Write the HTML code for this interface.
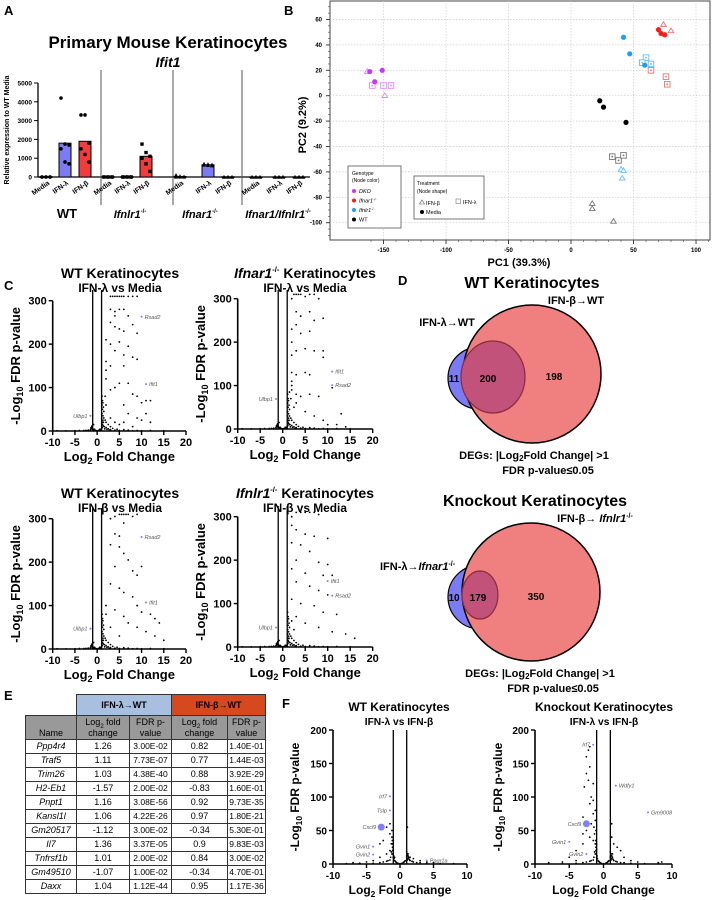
<!DOCTYPE html>
<html><head><meta charset="utf-8"><style>
html,body{margin:0;padding:0;background:#fff;}
svg{display:block;font-family:"Liberation Sans",Arial,sans-serif;}
#tbl td{padding:0;white-space:nowrap;overflow:hidden;}
</style></head><body>
<svg id="fig" width="712" height="900" viewBox="0 0 712 900">
<g font-weight="bold" font-size="13">
<text x="4" y="15">A</text>
<text x="284" y="15">B</text>
<text x="4" y="290">C</text>
<text x="398" y="285">D</text>
<text x="4" y="700">E</text>
<text x="282" y="708">F</text>
</g>
<g id="pA"></g>
<g id="pB"></g>
<g id="pC"></g>
<g id="pD">
<text x="532" y="288" text-anchor="middle" font-size="16" font-weight="bold">WT Keratinocytes</text>
<text x="576" y="304" text-anchor="middle" font-size="11" font-weight="bold">IFN-β→WT</text>
<text x="447" y="326" text-anchor="middle" font-size="11" font-weight="bold">IFN-λ→WT</text>
<circle cx="479" cy="378" r="31" fill="#7b7bf5" stroke="#000" stroke-width="1.2"/>
<circle cx="532" cy="374" r="69" fill="#f08080" stroke="#000" stroke-width="1.5"/>
<ellipse cx="493" cy="377" rx="32" ry="36" fill="#c2527a" stroke="#8b2a3a" stroke-width="1.2"/>
<text x="534" y="459" text-anchor="middle" font-size="11" font-weight="bold">DEGs: |Log<tspan font-size="8" dy="2">2</tspan><tspan dy="-2">Fold Change| &gt;1</tspan></text>
<text x="548" y="474" text-anchor="middle" font-size="11" font-weight="bold">FDR p-value≤0.05</text>
<text x="535" y="506" text-anchor="middle" font-size="16" font-weight="bold">Knockout Keratinocytes</text>
<text x="595" y="522" text-anchor="middle" font-size="11" font-weight="bold">IFN-β→ <tspan font-style="italic">Ifnlr1</tspan><tspan font-size="7" dy="-4">-/-</tspan></text>
<text x="380" y="570" font-size="11" font-weight="bold">IFN-λ→<tspan font-style="italic">Ifnar1</tspan><tspan font-size="7" dy="-4">-/-</tspan></text>
<circle cx="480" cy="597" r="32" fill="#7b7bf5" stroke="#000" stroke-width="1.2"/>
<circle cx="531" cy="592" r="69" fill="#f08080" stroke="#000" stroke-width="1.5"/>
<ellipse cx="480" cy="595" rx="18" ry="24" fill="#c2527a" stroke="#8b2a3a" stroke-width="1.2"/>
<text x="540" y="677" text-anchor="middle" font-size="11" font-weight="bold">DEGs: |Log<tspan font-size="8" dy="2">2</tspan><tspan dy="-2">Fold Change| &gt;1</tspan></text>
<text x="553" y="692" text-anchor="middle" font-size="11" font-weight="bold">FDR p-value≤0.05</text>
<g font-size="10" font-weight="bold" text-anchor="middle">
<text x="454" y="382">11</text>
<text x="488" y="382">200</text>
<text x="554" y="380">198</text>
<text x="454" y="601">10</text>
<text x="478" y="601">179</text>
<text x="536" y="600">350</text>
</g>
</g>
<g id="pF"></g>
</svg>
<div id="tbl" style="position:absolute;left:25px;top:694px;font-family:'Liberation Sans',Arial,sans-serif;font-size:9px;"></div>
<script>
const NS="http://www.w3.org/2000/svg";
function el(parent,tag,attrs,text){const e=document.createElementNS(NS,tag);for(const k in attrs)e.setAttribute(k,attrs[k]);if(text!==undefined)e.textContent=text;parent.appendChild(e);return e;}

/* ===== Panel A data ===== */
const groupNames=["WT","Ifnlr1","Ifnar1","Ifnar1/Ifnlr1"];
const treatments=["Media","IFN-λ","IFN-β"];
const barWT=[20,1800,1900];
const barIfnlr1=[20,20,1100];
const barIfnar1=[30,650,10];
const barDKO=[5,5,5];
const ptsWT=[[0,0,0,0,0,0],[4200,1750,1700,1500,800,700],[3300,3300,1800,1500,1200,800]];
const ptsIfnlr1=[[0,0,0,0,0,0],[0,0,0,0,0,0],[1750,1300,1100,1000,700,300]];
const ptsIfnar1=[[100,40,20,0,0,0],[700,680,660,640,620,600],[0,0,0,0,0,0]];
const ptsDKO=[[0,0,0,0,0,0],[0,0,0,0,0,0],[0,0,0,0,0,0]];
const yTicksA=[0,1000,2000,3000,4000,5000];

/* ===== Panel B data ===== */
const pcaDKO_media=[[-161,19],[-151,20],[-157,11]];
const pcaDKO_lam=[[-159,8],[-150,8],[-144,8]];
const pcaDKO_beta=[[-149,0],[-163,19]];
const pcaIfnar_media=[[70,52],[72,49],[75,48]];
const pcaIfnar_lam=[[76,15],[77,9],[64,20]];
const pcaIfnar_beta=[[74,56],[80,51]];
const pcaIfnlr_media=[[42,46],[47,33],[59,24]];
const pcaIfnlr_lam=[[60,30],[57,26],[64,25]];
const pcaIfnlr_beta=[[40,-58],[42,-59],[41,-65]];
const pcaWT_media=[[23,-4],[26,-9],[44,-21]];
const pcaWT_lam=[[33,-48],[38,-51],[42,-47]];
const pcaWT_beta=[[17,-85],[17,-89],[34,-99]];
const pcaXTicks=[-150,-100,-50,0,50,100];
const pcaYTicks=[60,40,20,0,-20,-40,-60,-80,-100];

/* ===== Panel C data ===== */
const clusterC=[[-1,5],[-1.2,10],[-0.8,15],[-1.5,3],[-2,2],[-3,1],[-5,0.5],[-7,0.3],[1,5],[1.2,15],[1.3,25],[1.5,30],[1.4,20],[1.6,10],[2,8],[2.5,5],[3,3],[4,2],[5,1],[6,1],[8,0.5],[0.5,2],[-0.5,2],[0,0.5],[1.1,40],[1.2,50],[1.1,60],[1.3,35],[1.5,45],[2,20],[2.5,15],[3,10],[1.8,25],[-1.1,8],[-1.3,5],[-0.9,3],[0.8,3],[-9,0.5],[12,1],[15,0.5],[1.2,70],[1.4,55],[0.9,1],[-0.7,1],[3.5,6],[4.5,4],[6,3],[7,2],[-0.3,1],[0.3,1],[-1,1],[1,1],[-1.4,7],[1.7,5],[-0.6,4],[0.6,4],[-1.1,12],[1.15,8],[1.25,20],[1.35,12],[2.2,4],[-2.5,1.5],[-4,1],[9,1],[10,0.5],[2.8,2],[1.05,30],[1.3,65],[1.1,80]];
const volTL=[[3,310],[3.5,310],[4,310],[4.5,310],[5,310],[5.5,310],[6,310],[7,310],[8,310],[9,310],[3,280],[4,275],[5,280],[6,280],[7,265],[8,245],[9,225],[4,265],[3,250],[4,240],[5,235],[6,230],[2,210],[3,200],[5,205],[7,195],[4,185],[6,175],[8,170],[9,165],[2,160],[3,150],[6,150],[5,110],[7,110],[8,85],[9,80],[10,65],[11,70],[12,70],[4,100],[3,95],[6,60],[7,40],[9,30],[10,25],[11,40],[12,20],[2,120],[2,140],[1.8,80],[2,60],[3,30],[4,20],[5,15],[6,20],[8,10]];
const volTR=[[2,300],[2.5,310],[3,310],[3.5,310],[4,310],[5,305],[6,310],[7,310],[8,300],[3,270],[4,260],[6,270],[7,250],[3,240],[9,255],[2,230],[4,220],[6,225],[2,200],[3,180],[5,185],[7,180],[9,180],[9,165],[2,170],[2,130],[3,125],[5,130],[6,125],[2,110],[2,100],[3,80],[4,75],[6,80],[8,75],[11,95],[13,35],[3,60],[5,40],[7,30],[9,20],[10,10],[12,10],[14,5],[2,90],[2.5,50],[1.8,70],[1.5,85]];
const volBL=[[3,300],[4,305],[5,310],[5.5,310],[6,310],[6.5,310],[7,310],[8,305],[9,310],[4,265],[5,260],[6,290],[3,240],[5,235],[6,220],[7,205],[4,190],[8,180],[9,170],[10,190],[3,150],[5,140],[6,130],[8,120],[9,100],[10,85],[12,80],[13,70],[14,60],[4,90],[6,75],[7,60],[9,50],[11,40],[13,30],[15,20],[2,100],[2,80],[3,50],[5,30]];
const volBR=[[2,300],[3,310],[4,310],[5,310],[6,310],[7,310],[8,305],[2,280],[3,270],[5,260],[7,255],[10,250],[2,240],[4,235],[6,220],[3,200],[8,195],[10,190],[2,180],[5,170],[9,165],[11,165],[3,150],[6,140],[8,130],[10,120],[2,110],[4,100],[7,95],[9,80],[12,75],[3,70],[5,55],[8,45],[11,35],[14,30],[16,20],[2,60],[2.5,40]];
const labTL=[["Rsad2",10,263],["Ifit1",11,108],["Ulbp1",-1.5,35]];
const labTR=[["Ifit1",11,132],["Rsad2",11,101],["Ulbp1",-1.5,69]];
const labBL=[["Rsad2",10,258],["Ifit1",11,107],["Ulbp1",-1.5,47]];
const labBR=[["Ifit1",10,152],["Rsad2",11,118],["Ulbp1",-1.5,45]];
const xTicksC=[-10,-5,0,5,10,15,20];
const yTicksC=[0,100,200,300];

/* ===== Panel F data ===== */
const clusterF=[[-1,10],[-1.1,20],[-1.2,30],[-0.9,8],[-0.8,5],[-0.5,2],[0,0.5],[0.5,2],[0.8,5],[1,10],[1.1,15],[1.2,8],[-1.5,6],[-2,4],[-3,2],[1.5,5],[2,3],[3,2],[-1.05,15],[-1.1,25],[1.05,12],[-0.95,12],[-1.3,18],[1.3,10],[0.6,3],[-0.6,3],[-1.0,22],[1.1,6],[-2.5,3],[2.5,2],[-4,1],[4,1],[-6,0.5],[6,0.5],[8,0.5],[-8,0.5],[-0.3,1],[0.3,1],[-0.7,4],[0.7,4],[-1.2,15],[1.2,12],[-1.4,10],[1.4,7],[-1.0,30],[-1.15,35],[1.0,18],[-1.8,5],[1.8,4]];
const volFL=[[-1.5,60],[-2,55],[-1.2,50],[-1.5,45],[-2.5,35],[-3,30],[-1.3,30],[-1.1,25],[-1.2,40],[-1.5,20],[-2,15],[-3,10],[-4,5],[-5,3],[-7,2],[-6,1],[1.1,55],[1.2,15],[1.5,10],[2,8],[3,5],[4,3],[5,2],[1,12],[-1,35],[-1.1,30],[-0.8,10]];
const volFR=[[-2,175],[-2.2,170],[-2.5,160],[-2,145],[-2.5,135],[-2.2,125],[-1.5,120],[-2.8,115],[-1.8,100],[-1.5,95],[-2,90],[-1.2,80],[-1.5,75],[-3,70],[-1.8,60],[-2.5,50],[-3,45],[-2,40],[-1.5,35],[-3,30],[-4,20],[-5,10],[-4,5],[-6,3],[-8,2],[1.2,60],[1.2,40],[1.5,30],[2,25],[2.5,20],[1.3,15],[3,10],[4,5],[5,3],[8,2],[8.5,3],[-1.2,65],[-1.1,50],[-1.1,30],[-1.3,45],[-1.4,55]];
const labFL=[["Irf7",-1.5,101],["Tslp",-1.5,80],["Cxcl9",-2.8,55],["Gvin1",-4,26],["Gvin2",-4,14],["Pagr1a",4,5]];
const labFR=[["Irf7",-1.5,178],["Wdfy1",1.8,117],["Gm9008",6.5,77],["Cxcl9",-2.5,60],["Gvin1",-5,33],["Gvin2",-2.5,15]];
const xTicksF=[-10,-5,0,5,10];
const yTicksF=[0,50,100,150,200];

/* ===== Table data ===== */
const genes=["Ppp4r4","Traf5","Trim26","H2-Eb1","Pnpt1","Kansl1l","Gm20517","Il7","Tnfrsf1b","Gm49510","Daxx"];
const lfcLam=["1.26","1.11","1.03","-1.57","1.16","1.06","-1.12","1.36","1.01","-1.07","1.04"];
const fdrLam=["3.00E-02","7.73E-07","4.38E-40","2.00E-02","3.08E-56","4.22E-26","3.00E-02","3.37E-05","2.00E-02","1.00E-02","1.12E-44"];
const lfcBeta=["0.82","0.77","0.88","-0.83","0.92","0.97","-0.34","0.9","0.84","-0.34","0.95"];
const fdrBeta=["1.40E-01","1.44E-03","3.92E-29","1.60E-01","9.73E-35","1.80E-21","5.30E-01","9.83E-03","3.00E-02","4.70E-01","1.17E-36"];

/* ===== Draw Panel A ===== */
(function(){
const g=document.getElementById('pA');
const yA=v=>177-v*(94/5000);
const bars=[barWT,barIfnlr1,barIfnar1,barDKO];
const pts=[ptsWT,ptsIfnlr1,ptsIfnar1,ptsDKO];
const barX=[[40,59,79],[102,121,140],[174,202,222],[250,273,293]];
const colors=["#7b7bf5","#f03c3c"];
let t=el(g,'text',{x:168,y:48,'text-anchor':'middle','font-size':17,'font-weight':'bold'},'Primary Mouse Keratinocytes');

t=el(g,'text',{x:168,y:67,'text-anchor':'middle','font-size':14,'font-weight':'bold','font-style':'italic'},'Ifit1');

t=el(g,'text',{transform:'translate(9,130) rotate(-90)','text-anchor':'middle','font-size':7,'font-weight':'bold'},'Relative expression to WT Media');

let ax=el(g,'line',{x1:38,y1:83,x2:38,y2:177,stroke:'#000','stroke-width':1.3});

ax=el(g,'line',{x1:38,y1:177,x2:310,y2:177,stroke:'#000','stroke-width':1.3});

yTicksA.forEach(v=>{el(g,'line',{x1:34,x2:38,y1:yA(v),y2:yA(v),stroke:'#000'});
 const tt=el(g,'text',{x:32,y:yA(v)+2.5,'text-anchor':'end','font-size':6.5,'font-weight':'bold'},v);
 });
[101,173,242].forEach(x=>{const s=el(g,'line',{x1:x,x2:x,y1:70,y2:205,stroke:'#555','stroke-width':1});
 });
bars.forEach((bv,gi)=>{bv.forEach((v,ti)=>{
 const x=barX[gi][ti];const fill=ti===0?'#fff':(gi<3?colors[ti-1]:'#fff');
 const r=el(g,'rect',{x:x,y:yA(v),width:12,height:Math.max(177-yA(v),0.8),fill:fill,stroke:'#000','stroke-width':1});
 
 
 const p=pts[gi][ti];p.forEach((pv,pi)=>{
  const px=x+2+(pi%3)*4;const py=yA(pv);
  let m;
  if(gi===0)m=el(g,'circle',{cx:px,cy:py,r:1.8,fill:'#000'});
  else if(gi===1)m=el(g,'rect',{x:px-1.7,y:py-1.7,width:3.4,height:3.4,fill:'#000'});
  else m=el(g,'path',{d:`M${px},${py-2}L${px+2},${py+1.6}L${px-2},${py+1.6}Z`,fill:'#000'});
  
 });
 const lbl=el(g,'text',{transform:`translate(${x+10},${184}) rotate(-35)`,'text-anchor':'end','font-size':7,'font-weight':'bold'},treatments[ti]);
 
});});
const gl=[["WT",67,false],["Ifnlr1",130,true],["Ifnar1",200,true],["Ifnar1/Ifnlr1",278,true]];
gl.forEach(([n,x,it])=>{const tt=el(g,'text',{x:x,y:218,'text-anchor':'middle','font-size':it?11:13,'font-weight':'bold','font-style':it?'italic':'normal'},n);
 if(it){el(tt,'tspan',{'font-size':6,dy:-5,'font-style':'normal'},'-/-');}
 });
})();

/* ===== Draw Panel B ===== */
(function(){
const g=document.getElementById('pB');
const X=v=>571+v*1.25, Y=v=>95.7-v*1.27;
const box=el(g,'rect',{x:330,y:1,width:380,height:239,fill:'#fff',stroke:'#444','stroke-width':1});

pcaXTicks.forEach(v=>{el(g,'line',{x1:X(v),x2:X(v),y1:1,y2:240,stroke:'#ccc','stroke-dasharray':'1.5,1.5','stroke-width':0.7});
 el(g,'line',{x1:X(v),x2:X(v),y1:240,y2:244,stroke:'#444'});
 const t=el(g,'text',{x:X(v),y:252,'text-anchor':'middle','font-size':6,'font-weight':'bold'},v);
 });
for(let v=-160;v<=110;v+=10){el(g,'line',{x1:X(v),x2:X(v),y1:240,y2:242,stroke:'#444','stroke-width':0.6});}
pcaYTicks.forEach(v=>{el(g,'line',{x1:330,x2:710,y1:Y(v),y2:Y(v),stroke:'#ccc','stroke-dasharray':'1.5,1.5','stroke-width':0.7});
 el(g,'line',{x1:326,x2:330,y1:Y(v),y2:Y(v),stroke:'#444'});
 const t=el(g,'text',{x:322,y:Y(v)+2,'text-anchor':'end','font-size':6,'font-weight':'bold'},v);
 });
for(let v=-110;v<=70;v+=5){el(g,'line',{x1:328,x2:330,y1:Y(v),y2:Y(v),stroke:'#444','stroke-width':0.6});}
let t=el(g,'text',{x:519,y:266,'text-anchor':'middle','font-size':11,'font-weight':'bold'},'PC1 (39.3%)');

t=el(g,'text',{transform:'translate(306,125) rotate(-90)','text-anchor':'middle','font-size':11,'font-weight':'bold'},'PC2 (9.2%)');

function dot(c,p){const m=el(g,'circle',{cx:X(p[0]),cy:Y(p[1]),r:2.6,fill:c});}
function sq(c,p){const m=el(g,'rect',{x:X(p[0])-2.8,y:Y(p[1])-2.8,width:5.6,height:5.6,fill:'#fff',stroke:c,'stroke-width':0.9});el(g,'rect',{x:X(p[0])-0.8,y:Y(p[1])-0.8,width:1.6,height:1.6,fill:c});}
function tri(c,p){const x=X(p[0]),y=Y(p[1]);const m=el(g,'path',{d:`M${x},${y-2.8}L${x+2.8},${y+1.8}L${x-2.8},${y+1.8}Z`,fill:'#fff',stroke:c,'stroke-width':0.9});}
const sets=[["#cc33ff","#dd88ff",pcaDKO_media,pcaDKO_lam,pcaDKO_beta],["#ff1a1a","#f07070",pcaIfnar_media,pcaIfnar_lam,pcaIfnar_beta],["#1a9fff","#66bbff",pcaIfnlr_media,pcaIfnlr_lam,pcaIfnlr_beta],["#000","#777",pcaWT_media,pcaWT_lam,pcaWT_beta]];
sets.forEach(s=>{s[3].forEach(p=>sq(s[1],p));s[4].forEach(p=>tri(s[1],p));s[2].forEach(p=>dot(s[0],p));});
const lg=el(g,'g',{});
el(lg,'rect',{x:348,y:166,width:53,height:62,fill:'#fff',stroke:'#555','stroke-width':0.8});
el(lg,'text',{x:352,y:175,'font-size':5},'Genotype');el(lg,'text',{x:352,y:182,'font-size':5},'(Node color)');
[["#cc33ff","DKO"],["#ff1a1a","Ifnar1"],["#1a9fff","Ifnlr1"],["#000","WT"]].forEach(([c,n],i)=>{
 const e=el(lg,'g',{});
 el(e,'circle',{cx:354,cy:191+i*9.5,r:2,fill:c});
 const tt=el(e,'text',{x:359,y:193+i*9.5,'font-size':5.5,'font-style':n==='WT'?'normal':'italic'},n);
 if(n!=='WT'&&n!=='DKO')el(tt,'tspan',{'font-size':3.5,dy:-2},'-/-');});
const tg=el(g,'g',{});
el(tg,'rect',{x:414,y:176,width:70,height:43,fill:'#fff',stroke:'#555','stroke-width':0.8});
el(tg,'text',{x:417,y:185,'font-size':5},'Treatment');el(tg,'text',{x:417,y:193,'font-size':5},'(Node shape)');
el(tg,'path',{d:'M422,200L424.5,204L419.5,204Z',fill:'none',stroke:'#555','stroke-width':0.6});
el(tg,'text',{x:426,y:205,'font-size':5.5},'IFN-β');
el(tg,'rect',{x:456,y:199,width:4.5,height:4.5,fill:'none',stroke:'#777','stroke-width':0.6});
el(tg,'text',{x:463,y:204,'font-size':5.5},'IFN-λ');
el(tg,'circle',{cx:422,cy:212,r:2,fill:'#000'});el(tg,'text',{x:426,y:214,'font-size':5.5},'Media');
})();

/* ===== Volcano helper ===== */
function volcano(g,o){
 const X=v=>o.px0+(v-o.xmin)*(o.px1-o.px0)/(o.xmax-o.xmin);
 const Y=v=>o.py0-v*(o.py0-o.py1)/o.ymax;
 const grp=el(g,'g',{});
 let t=el(grp,'text',{x:o.tx,y:o.ty,'text-anchor':'middle','font-size':o.tfs,'font-weight':'bold'});
 if(o.titleItal){el(t,'tspan',{'font-style':'italic'},o.titleItal);el(t,'tspan',{'font-size':o.tfs*0.55,dy:-6},'-/-');el(t,'tspan',{dy:6},' Keratinocytes');}
 else t.textContent=o.title;
 
 t=el(grp,'text',{x:o.tx,y:o.ty+14,'text-anchor':'middle','font-size':o.tfs*0.85,'font-weight':'bold'},o.sub);
 
 let a=el(grp,'line',{x1:o.px0,x2:o.px0,y1:Y(o.ymax),y2:o.py0,stroke:'#000','stroke-width':1.6});
 
 a=el(grp,'line',{x1:o.px0,x2:o.px1,y1:o.py0,y2:o.py0,stroke:'#000','stroke-width':1.6});
 
 o.yt.forEach(v=>{el(grp,'line',{x1:o.px0-4,x2:o.px0,y1:Y(v),y2:Y(v),stroke:'#000','stroke-width':1.4});
  const tt=el(grp,'text',{x:o.px0-6,y:Y(v)+4,'text-anchor':'end','font-size':o.fs,'font-weight':'bold'},v);
  });
 o.xt.forEach(v=>{el(grp,'line',{x1:X(v),x2:X(v),y1:o.py0,y2:o.py0+4,stroke:'#000','stroke-width':1.4});
  const tt=el(grp,'text',{x:X(v),y:o.py0+15,'text-anchor':'middle','font-size':o.fs,'font-weight':'bold'},v);
  });
 [-1,1].forEach(v=>{const l=el(grp,'line',{x1:X(v),x2:X(v),y1:o.vtop,y2:o.py0,stroke:'#000','stroke-width':1.3});
  });
 t=el(grp,'text',{x:(o.px0+o.px1)/2,y:o.py0+30,'text-anchor':'middle','font-size':o.lfs,'font-weight':'bold'});
 el(t,'tspan',{},'Log');el(t,'tspan',{'font-size':o.lfs*0.7,dy:3},'2');el(t,'tspan',{dy:-3},' Fold Change');
 
 t=el(grp,'text',{transform:`translate(${o.ylx},${(o.py0+Y(o.ymax))/2}) rotate(-90)`,'text-anchor':'middle','font-size':o.lfs,'font-weight':'bold'});
 el(t,'tspan',{},'-Log');el(t,'tspan',{'font-size':o.lfs*0.7,dy:3},'10');el(t,'tspan',{dy:-3},' FDR p-value');
 
 o.cluster.concat(o.pts).forEach(p=>{const c=el(grp,'circle',{cx:X(p[0]),cy:Y(p[1]),r:o.r,fill:'#000'});
  });
 o.labs.forEach(([n,x,y])=>{const big=n==='Cxcl9';
  const c=el(grp,'circle',{cx:X(x),cy:Y(y),r:big?3.5:1,fill:'#8080ff'});
  
  const right=x>0;
  const tt=el(grp,'text',{x:right?X(x)+3:X(x)-(big?5:3),y:Y(y)+2,'text-anchor':right?'start':'end','font-size':5.5,'font-style':'italic',fill:'#555'},n);
  });
}
const pC=document.getElementById('pC');
volcano(pC,{name:'volcano-wt-lambda',px0:52.7,px1:186,xmin:-10,xmax:20,py0:431,py1:300.7,ymax:300,vtop:290,tx:120,ty:278,tfs:14,title:'WT Keratinocytes',sub:'IFN-λ vs Media',yt:yTicksC,xt:xTicksC,fs:11,lfs:13,ylx:20,cluster:clusterC,pts:volTL,labs:labTL,r:0.9});
volcano(pC,{name:'volcano-ifnar1-lambda',px0:237.7,px1:372.7,xmin:-10,xmax:20,py0:429,py1:298.7,ymax:300,vtop:290,tx:305,ty:278,tfs:14,titleItal:'Ifnar1',sub:'IFN-λ vs Media',yt:yTicksC,xt:xTicksC,fs:11,lfs:13,ylx:205,cluster:clusterC,pts:volTR,labs:labTR,r:0.9});
volcano(pC,{name:'volcano-wt-beta',px0:52.7,px1:186,xmin:-10,xmax:20,py0:649,py1:518.7,ymax:300,vtop:508,tx:120,ty:498,tfs:14,title:'WT Keratinocytes',sub:'IFN-β vs Media',yt:yTicksC,xt:xTicksC,fs:11,lfs:13,ylx:20,cluster:clusterC,pts:volBL,labs:labBL,r:0.9});
volcano(pC,{name:'volcano-ifnlr1-beta',px0:237.7,px1:372.7,xmin:-10,xmax:20,py0:647,py1:516.7,ymax:300,vtop:506,tx:305,ty:498,tfs:14,titleItal:'Ifnlr1',sub:'IFN-β vs Media',yt:yTicksC,xt:xTicksC,fs:11,lfs:13,ylx:205,cluster:clusterC,pts:volBR,labs:labBR,r:0.9});
const pF=document.getElementById('pF');
volcano(pF,{name:'volcano-wt-lambda-vs-beta',px0:333,px1:467,xmin:-10,xmax:10,py0:864,py1:730,ymax:200,vtop:730,tx:399,ty:711,tfs:12,title:'WT Keratinocytes',sub:'IFN-λ vs IFN-β',yt:yTicksF,xt:xTicksF,fs:10,lfs:12,ylx:299,cluster:clusterF,pts:volFL,labs:labFL,r:0.9});
volcano(pF,{name:'volcano-ko-lambda-vs-beta',px0:535,px1:672,xmin:-10,xmax:10,py0:864,py1:730,ymax:200,vtop:730,tx:604,ty:711,tfs:12,title:'Knockout Keratinocytes',sub:'IFN-λ vs IFN-β',yt:yTicksF,xt:xTicksF,fs:10,lfs:12,ylx:502,cluster:clusterF,pts:volFR,labs:labFR,r:0.9});

/* ===== Table ===== */
(function(){
const w=document.getElementById('tbl');
const cw=[51,53,42,56,38];
const bd='border:1px solid #333;';
let h='<table style="border-collapse:collapse;table-layout:fixed;text-align:center;line-height:11px;width:240px">';
h+='<colgroup>'+cw.map(c=>`<col style="width:${c}px">`).join('')+'</colgroup>';
h+='<tr style="height:21px"><td style="border:none"></td><td colspan="2" style="background:#a9bfe0;'+bd+'font-weight:bold;font-size:9px">IFN-λ→WT</td><td colspan="2" style="background:#d6491e;'+bd+'font-weight:bold;font-size:9px">IFN-β→WT</td></tr>';
const hd=['Name','Log<sub style="font-size:6px;line-height:0">2</sub> fold<br>change','FDR p-<br>value','Log<sub style="font-size:6px;line-height:0">2</sub> fold<br>change','FDR p-<br>value'];
h+='<tr style="height:24px;background:#999">'+hd.map((s,i)=>`<td style="${bd}${i===0?'vertical-align:bottom':''}">${s}</td>`).join('')+'</tr>';
genes.forEach((gname,i)=>{h+=`<tr style="height:14px"><td style="${bd}font-style:italic">${gname}</td><td style="${bd}">${lfcLam[i]}</td><td style="${bd}font-size:8.5px">${fdrLam[i]}</td><td style="${bd}">${lfcBeta[i]}</td><td style="${bd}font-size:8.5px">${fdrBeta[i]}</td></tr>`;});
h+='</table>';
w.innerHTML=h;
})();
</script>
</body></html>
